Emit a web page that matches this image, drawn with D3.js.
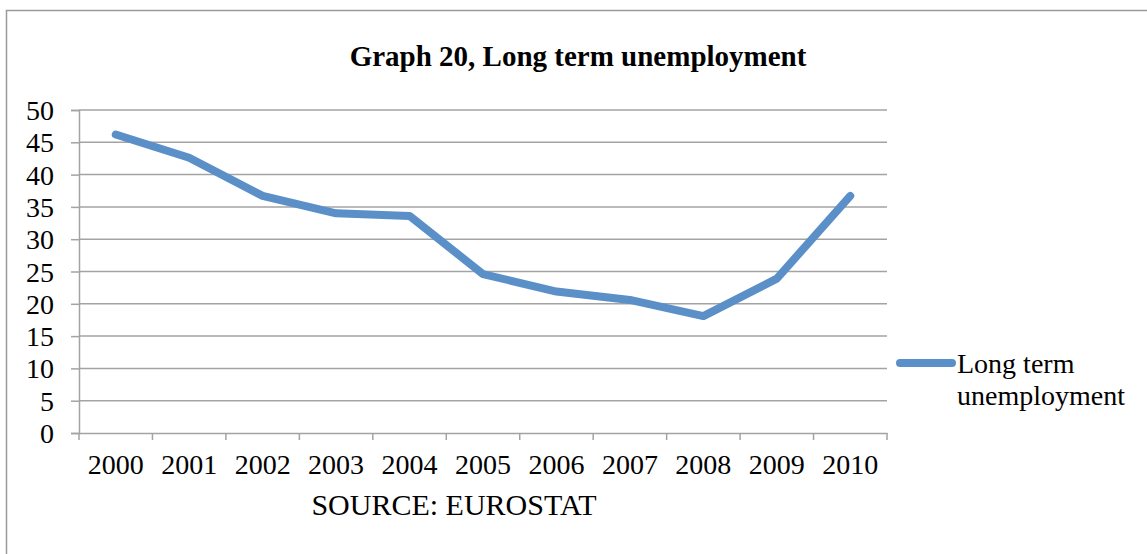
<!DOCTYPE html>
<html><head><meta charset="utf-8">
<script src="https://cdn.jsdelivr.net/npm/d3@7"></script>
<style>body{margin:0;background:#fff}svg{display:block}</style>
</head><body><svg id="c" width="1147" height="554"></svg>
<script>
const years = ["2000","2001","2002","2003","2004","2005","2006","2007","2008","2009","2010"];
const values = [46.2, 42.6, 36.7, 34.0, 33.6, 24.6, 21.9, 20.6, 18.1, 23.9, 36.7];
const yTicks = [0,5,10,15,20,25,30,35,40,45,50];
const title = "Graph 20, Long term unemployment";
const seriesName = ["Long term", "unemployment"];
const source = "SOURCE: EUROSTAT";

(function(){
const svg = d3.select("#c");
const serif = "'Liberation Serif', 'Times New Roman', serif";
const pLeft = 79, pRight = 887, pTop = 110, pBottom = 433;
const blue = "#5b8fc8", grid = "#a3a3a3";
const fs = 28;

svg.append("rect").attr("x",6.5).attr("y",10.5).attr("width",1300).attr("height",700)
  .attr("fill","none").attr("stroke","#9a9a9a").attr("stroke-width",1.5);

const x = d3.scaleBand().domain(years).range([pLeft,pRight]).padding(0);
const y = d3.scaleLinear().domain([0,50]).range([pBottom,pTop]);

svg.append("g").selectAll("line").data(yTicks.filter(d=>d>0)).join("line")
  .attr("x1",pLeft).attr("x2",pRight).attr("y1",d=>y(d)).attr("y2",d=>y(d))
  .attr("stroke",grid).attr("stroke-width",1.5);

const ya = svg.append("g").attr("transform",`translate(${pLeft},0)`)
  .call(d3.axisLeft(y).tickValues(yTicks).tickSize(8).tickPadding(17));
ya.select(".domain").attr("stroke",grid).attr("stroke-width",1.5);
ya.selectAll(".tick line").attr("stroke",grid).attr("stroke-width",1.5);
ya.selectAll("text").attr("font-family",serif).attr("font-size",fs).attr("fill","#000").attr("dy","0.34em");

const xa = svg.append("g").attr("transform",`translate(0,${pBottom})`)
  .call(d3.axisBottom(x).tickSize(0).tickPadding(21));
xa.select(".domain").attr("stroke",grid).attr("stroke-width",1.5);
xa.selectAll("text").attr("font-family",serif).attr("font-size",fs).attr("fill","#000");
const bounds = years.map(d=>x(d)).concat([pRight]);
xa.selectAll(".btick").data(bounds).join("line").attr("class","btick")
  .attr("x1",d=>d).attr("x2",d=>d).attr("y1",0).attr("y2",7)
  .attr("stroke",grid).attr("stroke-width",1.5);

const line = d3.line().x((d,i)=>x(years[i])+x.bandwidth()/2).y(d=>y(d));
svg.append("path").datum(values).attr("d",line).attr("fill","none")
  .attr("stroke",blue).attr("stroke-width",8).attr("stroke-linecap","round").attr("stroke-linejoin","round");

svg.append("text").attr("x",578).attr("y",66).attr("text-anchor","middle")
  .attr("font-family",serif).attr("font-weight","bold").attr("font-size",29).text(title);

svg.append("text").attr("x",454).attr("y",515).attr("text-anchor","middle")
  .attr("font-family",serif).attr("font-size",30).text(source);

svg.append("line").attr("x1",900).attr("x2",952).attr("y1",363).attr("y2",363)
  .attr("stroke",blue).attr("stroke-width",8).attr("stroke-linecap","round");
svg.append("text").attr("x",957).attr("y",373).attr("font-family",serif).attr("font-size",fs).text(seriesName[0]);
svg.append("text").attr("x",957).attr("y",405).attr("font-family",serif).attr("font-size",fs).text(seriesName[1]);
})();
</script></body></html>
